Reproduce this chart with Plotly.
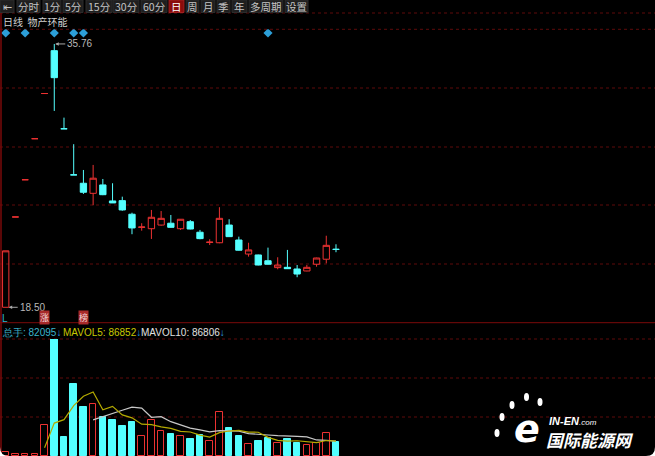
import plotly.graph_objects as go
import pandas as pd

W, H = 655, 456

# ---------------- data ----------------
days = list(range(35))
opens = [18.50, 24.42, 26.86, 29.55, 32.51, 35.32, 30.20, 27.18, 26.63, 25.97,
         26.52, 25.47, 25.49, 24.60, 23.74, 23.65, 23.89, 24.01, 23.65, 24.11,
         23.42, 22.75, 22.73, 23.89, 22.91, 21.99, 21.93, 21.55, 21.10, 21.12,
         21.01, 20.88, 21.32, 21.65, 22.31]
highs = [22.20, 24.42, 26.86, 29.55, 32.51, 35.76, 30.93, 29.19, 27.50, 27.83,
         26.91, 26.63, 25.75, 24.70, 24.01, 24.88, 24.81, 24.55, 24.28, 24.22,
         23.57, 22.96, 25.06, 24.27, 23.13, 22.73, 21.95, 22.41, 21.78, 22.26,
         21.27, 21.27, 21.75, 23.19, 22.63]
lows = [18.50, 24.42, 26.86, 29.55, 32.51, 31.37, 30.20, 27.18, 25.93, 25.19,
        25.85, 25.34, 24.83, 23.29, 23.52, 22.98, 23.85, 23.72, 23.57, 23.61,
        22.96, 22.58, 22.70, 23.12, 22.22, 21.82, 21.25, 21.30, 20.99, 21.02,
        20.47, 20.86, 21.16, 21.38, 22.11]
closes = [22.20, 24.42, 26.86, 29.55, 32.51, 33.55, 30.20, 27.18, 26.04, 26.96,
          25.88, 25.34, 24.88, 23.70, 23.76, 24.40, 24.33, 23.74, 24.27, 23.63,
          23.00, 22.77, 24.33, 23.13, 22.24, 22.26, 21.27, 21.32, 21.27, 21.03,
          20.68, 21.12, 21.73, 22.56, 22.29]
volumes = [25000, 10000, 13500, 13500, 178000, 740000, 108000, 420000, 286000, 300000,
           224000, 209000, 174000, 199000, 118000, 209000, 145000, 128000, 114000, 100000,
           119000, 89000, 255000, 161000, 118000, 69000, 86000, 106000, 75000, 97800,
           78000, 65000, 74000, 135165, 82095]
signal_days = [0, 2, 5, 7, 8, 27]
high_label_day, high_label_price = 5, 35.76
low_label_day, low_label_price = 0, 18.50
tag_days = {0: "L", 4: "涨", 8: "榜"}
stock_title = "日线  物产环能"
toolbar_labels = ["⇤", "分时", "1分", "5分", "15分", "30分", "60分", "日", "周", "月", "季", "年", "多周期", "设置"]
active_label = "日"

# ---------------- styles ----------------
RED = "#ec3232"
CYAN = "#54ffff"
GRID = "#5e0b0b"
BORDER = "#7a0a0a"
CJK = "Noto Sans CJK SC"
NUM = "Liberation Sans"

def px_x(p):
    return p / W

def px_y(p):
    return 1 - p / H

# candle & volume panel geometry (pixels)
c_top, c_bot = 29.3, 322.7
v_top, v_bot = 339.0, 456.0
price_range = [17.49, 36.72]
vol_range = [0, 678600]
x_range = [-0.587, 66.84]

# plotly-like increasing rule
inc = []
prev_c, prev_inc = None, True
for o, c in zip(opens, closes):
    if c != o:
        d = c > o
    elif prev_c is not None and c != prev_c:
        d = c > prev_c
    else:
        d = prev_inc
    inc.append(d)
    prev_c, prev_inc = c, d

vol_s = pd.Series(volumes, dtype=float)
ma5 = vol_s.rolling(5).mean()
ma10 = vol_s.rolling(10).mean()

fig = go.Figure()

fig.add_trace(go.Candlestick(
    x=days, open=opens, high=highs, low=lows, close=closes,
    increasing=dict(line=dict(color=RED, width=1), fillcolor="rgba(0,0,0,0)"),
    decreasing=dict(line=dict(color=CYAN, width=1), fillcolor=CYAN),
    whiskerwidth=0, hoverinfo="skip", xaxis="x", yaxis="y", showlegend=False))

# signal diamonds near top of candle panel
diamond_y = price_range[1] - (33 - c_top) / (c_bot - c_top) * (price_range[1] - price_range[0])
fig.add_trace(go.Scatter(
    x=signal_days, y=[diamond_y] * len(signal_days), mode="markers",
    marker=dict(symbol="diamond", size=7, color="#2c9fd8", line=dict(width=0)),
    hoverinfo="skip", showlegend=False, xaxis="x", yaxis="y"))

fig.add_trace(go.Bar(
    x=days, y=volumes, width=0.68,
    marker=dict(color=["rgba(0,0,0,0)" if d else CYAN for d in inc],
                line=dict(color=[RED if d else CYAN for d in inc], width=1)),
    hoverinfo="skip", showlegend=False, xaxis="x", yaxis="y2"))

fig.add_trace(go.Scatter(x=days, y=ma10, mode="lines", line=dict(color="#c8c8c8", width=1.2),
                         hoverinfo="skip", showlegend=False, xaxis="x", yaxis="y2"))
fig.add_trace(go.Scatter(x=days, y=ma5, mode="lines", line=dict(color="#b4aa00", width=1.2),
                         hoverinfo="skip", showlegend=False, xaxis="x", yaxis="y2"))

shapes = []
ann = []

# grid lines
for gy in [13, c_top, 88, 147, 205, 264, v_top, 378, 417]:
    shapes.append(dict(type="line", xref="paper", yref="paper", x0=0, x1=1,
                       y0=px_y(gy), y1=px_y(gy), line=dict(color=GRID, width=1, dash="dot"), layer="below"))
shapes.append(dict(type="line", xref="paper", yref="paper", x0=0, x1=1,
                   y0=px_y(c_bot), y1=px_y(c_bot), line=dict(color=BORDER, width=1)))
shapes.append(dict(type="line", xref="paper", yref="paper", x0=px_x(1), x1=px_x(1),
                   y0=px_y(13), y1=0, line=dict(color=BORDER, width=1.5)))

# toolbar
btn_px = [(0, 14), (17, 40), (43, 61), (63, 83), (86, 112), (113, 139), (141, 167),
          (169, 184), (186, 199), (201, 215), (217, 230), (232, 247), (249, 283), (285, 308)]
for lab, (a, b) in zip(toolbar_labels, btn_px):
    active = lab == active_label
    shapes.append(dict(type="rect", xref="paper", yref="paper", x0=px_x(a), x1=px_x(b),
                       y0=px_y(12.5), y1=px_y(0),
                       fillcolor="#8a0c0c" if active else "#1f1f1f",
                       line=dict(color="#a02020" if active else "#2c2c2c", width=1)))
    ann.append(dict(x=px_x((a + b) / 2), y=px_y(6.6), xref="paper", yref="paper", text=lab,
                    showarrow=False, xanchor="center", yanchor="middle", borderpad=0,
                    font=dict(family=CJK, size=10.5, color="#ffffff" if active else "#c4c4c4")))

ann.append(dict(x=px_x(1), y=px_y(21.5), xref="paper", yref="paper", text=stock_title,
                showarrow=False, xanchor="left", yanchor="middle",
                font=dict(family=CJK, size=10, color="#d0d0d0")))

# high / low labels
ann.append(dict(x=high_label_day, y=high_label_price, xref="x", yref="y", text=f"{high_label_price:.2f}",
                showarrow=True, ax=11, ay=0, xanchor="left", arrowhead=2, arrowsize=0.7, arrowwidth=1,
                arrowcolor="#a8a8a8", standoff=1, font=dict(family=NUM, size=10, color="#b8b8b8")))
ann.append(dict(x=low_label_day, y=low_label_price, xref="x", yref="y", text=f"{low_label_price:.2f}",
                showarrow=True, ax=12, ay=0, xanchor="left", arrowhead=2, arrowsize=0.7, arrowwidth=1,
                arrowcolor="#a8a8a8", standoff=3, font=dict(family=NUM, size=10, color="#b8b8b8")))

# tags under candles
for d, t in tag_days.items():
    if t == "L":
        ann.append(dict(x=d - 0.05, y=px_y(318), xref="x", yref="paper", text=t, showarrow=False,
                        xanchor="center", yanchor="middle",
                        font=dict(family=NUM, size=10, color="#2cb8d0")))
    else:
        ann.append(dict(x=d, y=px_y(317), xref="x", yref="paper", text=t, showarrow=False,
                        xanchor="center", yanchor="middle", bgcolor="#a82a2a", borderpad=0,
                        font=dict(family=CJK, size=9, color="#f2d8d8")))

# volume header
last_vol = volumes[-1]
ann.append(dict(x=px_x(0), y=px_y(332.5), xref="paper", yref="paper", showarrow=False,
                xanchor="left", yanchor="middle",
                text=f"<span style='color:#3cb4cc'>总手: {last_vol}</span><span style='color:#2c9fe0'>↓</span>",
                font=dict(family=NUM, size=10)))
ann.append(dict(x=px_x(61), y=px_y(332.5), xref="paper", yref="paper", showarrow=False,
                xanchor="left", yanchor="middle",
                text=f"<span style='color:#c8c800'>MAVOL5: {ma5.iloc[-1]:.0f}</span><span style='color:#2c9fe0'>↓</span>",
                font=dict(family=NUM, size=10)))
ann.append(dict(x=px_x(139), y=px_y(332.5), xref="paper", yref="paper", showarrow=False,
                xanchor="left", yanchor="middle",
                text=f"<span style='color:#e0e0e0'>MAVOL10: {ma10.iloc[-1]:.0f}</span><span style='color:#2c9fe0'>↓</span>",
                font=dict(family=NUM, size=10)))

# watermark logo
ann.append(dict(x=px_x(527), y=px_y(429), xref="paper", yref="paper", text="<b><i>e</i></b>", showarrow=False,
                xanchor="center", yanchor="middle", borderpad=0,
                font=dict(family="DejaVu Sans", size=38, color="#ffffff")))
ann.append(dict(x=px_x(548), y=px_y(421), xref="paper", yref="paper",
                text="<b><i>IN-EN</i></b><span style='font-size:8px'><i>.com</i></span>", showarrow=False,
                xanchor="left", yanchor="middle", borderpad=0,
                font=dict(family=NUM, size=11, color="#ffffff")))
ann.append(dict(x=px_x(545), y=px_y(439), xref="paper", yref="paper", text="<b><i>国际能源网</i></b>",
                showarrow=False, xanchor="left", yanchor="middle", borderpad=0,
                font=dict(family=CJK, size=17, color="#ffffff")))
for (lx, ly) in [(526.5, 397), (540, 402), (512, 405), (502, 417), (497, 433)]:
    shapes.append(dict(type="circle", xref="paper", yref="paper",
                       x0=px_x(lx - 2.5), x1=px_x(lx + 2.5), y0=px_y(ly + 4), y1=px_y(ly - 4),
                       fillcolor="#ffffff", line=dict(width=0)))

# rounded white screenshot corners
r = 9
bl = (f"M {px_x(0)},{px_y(H)} L {px_x(0)},{px_y(H - r)} "
      f"Q {px_x(0)},{px_y(H)} {px_x(r)},{px_y(H)} Z")
br = (f"M {px_x(W)},{px_y(H)} L {px_x(W)},{px_y(H - r)} "
      f"Q {px_x(W)},{px_y(H)} {px_x(W - r)},{px_y(H)} Z")
for p in (bl, br):
    shapes.append(dict(type="path", xref="paper", yref="paper", path=p,
                       fillcolor="#ffffff", line=dict(width=0)))

fig.update_layout(
    width=W, height=H, margin=dict(l=0, r=0, t=0, b=0),
    paper_bgcolor="#000000", plot_bgcolor="#000000",
    showlegend=False, boxgap=0.35, boxgroupgap=0, bargap=0,
    xaxis=dict(range=x_range, domain=[0, 1], showgrid=False, zeroline=False, showticklabels=False,
               showline=False, fixedrange=True, rangeslider=dict(visible=False)),
    yaxis=dict(range=price_range, domain=[px_y(c_bot), px_y(c_top)], showgrid=False, zeroline=False,
               showticklabels=False, showline=False, fixedrange=True),
    yaxis2=dict(range=vol_range, domain=[0, px_y(v_top)], showgrid=False, zeroline=False,
                showticklabels=False, showline=False, fixedrange=True, anchor="x"),
    shapes=shapes, annotations=ann,
)

fig.write_html("out.html", config={"displayModeBar": False},
               post_script="document.body.style.margin='0px';document.body.style.background='#000';")
